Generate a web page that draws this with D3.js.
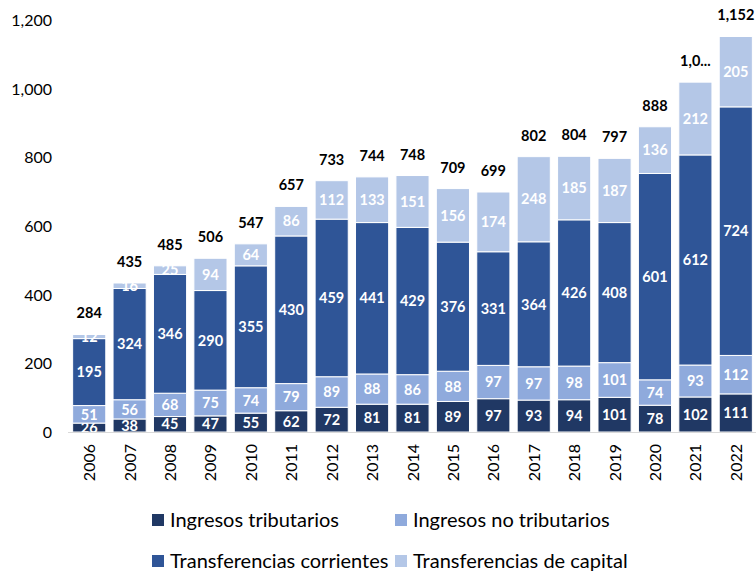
<!DOCTYPE html>
<html>
<head>
<meta charset="utf-8">
<script src="https://cdn.jsdelivr.net/npm/d3@7"></script>
<style>
  body { margin: 0; background: #fff; }
  svg { font-family: Lato, "Noto Sans", sans-serif; }
</style>
</head>
<body>
<svg id="chart" width="756" height="572"></svg>
<script>
// data
var years = ["2006","2007","2008","2009","2010","2011","2012","2013","2014","2015","2016","2017","2018","2019","2020","2021","2022"];
var tributarios   = [26,38,45,47,55,62,72,81,81,89,97,93,94,101,78,102,111];
var noTributarios = [51,56,68,75,74,79,89,88,86,88,97,97,98,101,74,93,112];
var corrientes    = [195,324,346,290,355,430,459,441,429,376,331,364,426,408,601,612,724];
var capital       = [12,16,25,94,64,86,112,133,151,156,174,248,185,187,136,212,205];
var totalLabels   = ["284","435","485","506","547","657","733","744","748","709","699","802","804","797","888","1,0...","1,152"];
var yTicks = [0,200,400,600,800,1000,1200];

var seriesNames = ["Ingresos tributarios","Ingresos no tributarios","Transferencias corrientes","Transferencias de capital"];
var colors = ["#203864","#8faadc","#2f5597","#b4c7e7"];

var svg = d3.select("#chart");

var x = d3.scaleBand().domain(years).range([69, 756]).paddingInner(0.18).paddingOuter(0.09);
var y = d3.scaleLinear().domain([0, 1200]).range([432, 20]);

var rows = years.map(function (yr, i) {
    return { year: yr, s0: tributarios[i], s1: noTributarios[i], s2: corrientes[i], s3: capital[i], total: totalLabels[i] };
});
var stack = d3.stack().keys(["s0","s1","s2","s3"])(rows);

// y axis labels
var yAxis = d3.axisLeft(y).tickValues(yTicks).tickSize(0).tickPadding(0).tickFormat(d3.format(","));
svg.append("g").attr("transform", "translate(52,0)").call(yAxis)
    .call(function (g) { g.select(".domain").remove(); })
    .selectAll("text").attr("font-size", 16).attr("fill", "#000").attr("font-family", "Lato, sans-serif").attr("dy", "0.35em");

// bars
var layers = svg.append("g").selectAll("g").data(stack).enter().append("g")
    .attr("fill", function (d, i) { return colors[i]; });

layers.selectAll("rect").data(function (d) { return d; }).enter().append("rect")
    .attr("x", function (d) { return x(d.data.year); })
    .attr("width", x.bandwidth())
    .attr("y", function (d) { return y(d[1]); })
    .attr("height", function (d) { return y(d[0]) - y(d[1]); })
    .attr("stroke", "#fff").attr("stroke-width", 1);

// segment labels
layers.selectAll("text").data(function (d) { return d; }).enter().append("text")
    .attr("x", function (d) { return x(d.data.year) + x.bandwidth() / 2; })
    .attr("y", function (d) { return (y(d[0]) + y(d[1])) / 2; })
    .attr("dy", "0.36em")
    .attr("text-anchor", "middle")
    .attr("font-size", 14.5).attr("font-weight", "bold").attr("fill", "#fff")
    .text(function (d) { return d[1] - d[0]; });

// x axis line
svg.append("line").attr("x1", 68).attr("x2", 756).attr("y1", 432.5).attr("y2", 432.5)
    .attr("stroke", "#d9d9d9").attr("stroke-width", 1);

// totals
svg.append("g").selectAll("text").data(stack[3]).enter().append("text")
    .attr("x", function (d) { return x(d.data.year) + x.bandwidth() / 2; })
    .attr("y", function (d) { return y(d[1]) - 16; })
    .attr("text-anchor", "middle")
    .attr("font-size", 14.5).attr("font-weight", "bold").attr("fill", "#000")
    .text(function (d) { return d.data.total; });

// year labels, rotated
svg.append("g").selectAll("text").data(years).enter().append("text")
    .attr("transform", function (d) { return "translate(" + (x(d) + x.bandwidth() / 2 + 6) + ",444) rotate(-90)"; })
    .attr("text-anchor", "end")
    .attr("font-size", 16).attr("fill", "#000")
    .text(function (d) { return d; });

// legend
var legendPos = [[152,520],[395,520],[152,561],[395,561]];
var lg = svg.append("g").selectAll("g").data(seriesNames).enter().append("g")
    .attr("transform", function (d, i) { return "translate(" + legendPos[i][0] + "," + legendPos[i][1] + ")"; });
lg.append("rect").attr("x", 0).attr("y", -6).attr("width", 12).attr("height", 12)
    .attr("fill", function (d, i) { return colors[i]; });
lg.append("text").attr("x", 18).attr("dy", "0.35em").attr("font-size", 20).attr("fill", "#000")
    .text(function (d) { return d; });
</script>
</body>
</html>
